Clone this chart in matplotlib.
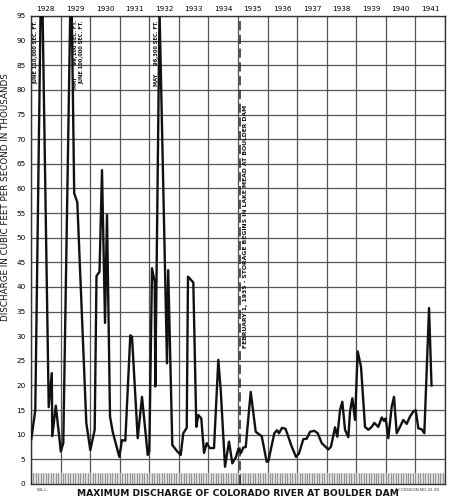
import numpy as np
import matplotlib
matplotlib.use("Agg")
import matplotlib.pyplot as plt
from matplotlib.transforms import blended_transform_factory

plt.rcParams['font.family'] = ['DejaVu Sans']

# ---------------- data ----------------
start_year = 1928
years = list(range(1928, 1942))
year_labels = [str(y) for y in years]

# time in years after Jan 1, 1928
t = [0.010, 0.145, 0.355, 0.599, 0.703, 0.720, 0.839, 1.008, 1.092, 1.336,
     1.370, 1.461, 1.566, 1.870, 2.005, 2.154, 2.215, 2.317, 2.401, 2.503,
     2.570, 2.672, 2.763, 2.986, 3.077, 3.189, 3.358, 3.416, 3.608, 3.754,
     3.947, 4.001, 4.092, 4.183, 4.204, 4.346, 4.599, 4.640, 4.778, 4.948,
     5.063, 5.150, 5.266, 5.309, 5.489, 5.590, 5.658, 5.759, 5.851, 5.942,
     6.043, 6.189, 6.334, 6.415, 6.561, 6.696, 6.808, 6.933, 7.017, 7.102,
     7.180, 7.261, 7.430, 7.599, 7.802, 7.971, 8.025, 8.228, 8.319, 8.387,
     8.488, 8.607, 8.816, 8.962, 9.063, 9.209, 9.324, 9.435, 9.581, 9.696,
     9.831, 10.054, 10.145, 10.281, 10.359, 10.450, 10.528, 10.619, 10.731, 10.788,
     10.866, 10.957, 11.048, 11.160, 11.295, 11.407, 11.522, 11.610, 11.745, 11.860,
     11.938, 11.995, 12.083, 12.198, 12.276, 12.367, 12.479, 12.590, 12.705, 12.817,
     12.928, 13.010, 13.098, 13.213, 13.301, 13.460, 13.544]

# maximum discharge, thousands of cubic feet per second
q = [9.1, 15.0, 110.0, 15.6, 22.5, 9.7, 15.9, 6.6, 8.3, 99.1,
     100.0, 59.0, 57.2, 12.4, 6.9, 11.0, 42.2, 43.1, 63.7, 32.7,
     54.6, 13.7, 10.6, 5.5, 8.9, 8.8, 30.2, 29.9, 9.3, 17.7,
     5.9, 6.6, 43.8, 41.0, 19.8, 96.3, 24.5, 43.4, 7.9, 6.6,
     5.9, 10.3, 11.4, 42.1, 40.9, 11.6, 14.0, 13.3, 6.3, 8.3,
     7.3, 7.3, 25.2, 19.1, 3.5, 8.6, 4.2, 5.5, 7.2, 6.3,
     7.4, 7.5, 18.7, 10.6, 9.7, 4.5, 4.6, 10.3, 10.9, 10.3,
     11.4, 11.2, 7.6, 5.5, 6.2, 9.1, 9.2, 10.6, 10.8, 10.3,
     8.3, 7.0, 7.6, 11.5, 9.6, 15.0, 16.7, 11.0, 9.5, 14.7,
     17.4, 13.0, 26.9, 23.8, 11.6, 11.0, 11.6, 12.4, 11.6, 13.5,
     12.8, 13.3, 9.3, 15.7, 17.7, 10.3, 11.6, 13.0, 12.2, 13.7,
     14.7, 15.0, 11.3, 11.1, 10.3, 35.7, 20.0]

storage_start = 1935 + 1 / 12
note_x = [1928.17, 1929.52, 1929.72, 1932.25]
note_text = ["JUNE 110,000 SEC. FT.",
             "MAY       99,100 SEC. FT.",
             "JUNE 100,000 SEC. FT.",
             "MAY     96,300 SEC. FT."]

# ---------------- figure ----------------
fig = plt.figure(figsize=(4.5, 5.01), dpi=100)
ax = fig.add_axes([31 / 450, 1 - 484 / 501, (445 - 31) / 450, (484 - 16) / 501])

x = start_year + np.array(t)
ax.plot(x, q, color='#111111', lw=1.7, solid_joinstyle='round', zorder=5)

ax.set_xlim(1928, 1942)
ax.set_ylim(0, 95)

# grid
ax.set_xticks(np.arange(1928, 1943))
ax.set_xticklabels([])
ax.set_xticks(np.array(years) + 0.5, minor=True)
ax.set_xticklabels(year_labels, minor=True, fontsize=5.2)
ax.tick_params(axis='x', which='both', length=0, top=True, labeltop=True,
               bottom=False, labelbottom=False, pad=3)
ax.set_yticks(np.arange(0, 96, 5))
ax.tick_params(axis='y', length=0, labelsize=5.2, pad=4)
ax.grid(which='major', color='#555555', lw=0.9)
ax.set_axisbelow(True)

for s in ax.spines.values():
    s.set_color('#333333')
    s.set_linewidth(1.0)

# hatched base band with monthly marks
ax.axhspan(0, 2.3, color='#dcdcdc', lw=0, zorder=1)
ax.vlines(np.arange(1928, 1942, 1 / 12), 0, 2.3, color='#777777', lw=0.5, zorder=2)

# storage line
ax.axvline(storage_start, color='#222222', lw=1.1, ls=(0, (6, 3)), zorder=4)
trans = blended_transform_factory(ax.transData, fig.transFigure)
ax.text(storage_start + 0.17, 1 - 226 / 501,
        "FEBRUARY 1, 1935 - STORAGE BEGINS IN LAKE MEAD AT BOULDER DAM",
        transform=trans, rotation=90, ha='center', va='center',
        fontsize=4.4, fontweight='bold', color='#111111')

# peak notes
for nx, nt in zip(note_x, note_text):
    ax.text(nx, 1 - 20 / 501, nt, transform=trans, rotation=90,
            ha='center', va='top', fontsize=3.7, fontweight='bold', color='#111111')

# labels
fig.text(6 / 450, 1 - 197 / 501, "DISCHARGE IN CUBIC FEET PER SECOND IN THOUSANDS",
         rotation=90, ha='center', va='center', fontsize=6.3, color='#111111')
fig.text(238 / 450, 1 - 494 / 501, "MAXIMUM DISCHARGE OF COLORADO RIVER AT BOULDER DAM",
         ha='center', va='center', fontsize=6.6, fontweight='bold', color='#111111')
fig.text(43 / 450, 1 - 490 / 501, "W.L.L.", ha='center', va='center',
         fontsize=3, color='#333333')
fig.text(417 / 450, 1 - 490 / 501, "ACCESSION NO 41 28", ha='center', va='center',
         fontsize=3, color='#333333')

fig.savefig("out.png", dpi=100, facecolor='white')
